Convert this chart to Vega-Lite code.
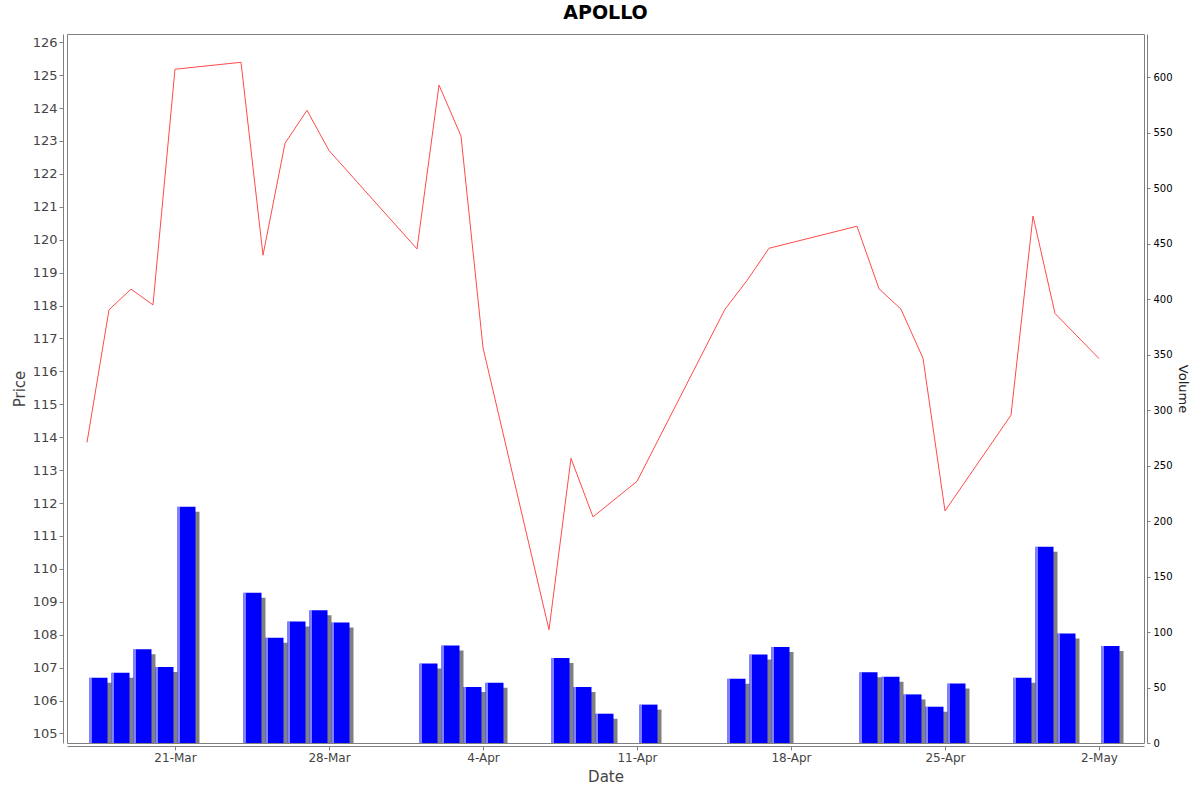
{
  "$schema": "https://vega.github.io/schema/vega-lite/v6.json",
  "width": 1077,
  "height": 709,
  "autosize": "none",
  "padding": {"left": 67, "top": 34, "right": 56, "bottom": 49},
  "background": "white",
  "title": {
    "text": "APOLLO",
    "font": "DejaVu Sans",
    "fontSize": 19,
    "fontWeight": "bold",
    "color": "black",
    "anchor": "middle",
    "baseline": "bottom",
    "offset": 10,
    "dy": 18
  },
  "config": {
    "view": {"stroke": "#808080", "strokeWidth": 1},
    "axis": {
      "font": "DejaVu Sans",
      "labelFont": "DejaVu Sans",
      "titleFont": "DejaVu Sans",
      "domainColor": "#808080",
      "tickColor": "#808080",
      "grid": false
    }
  },
  "data": {
    "values": [
      {"date": "2025/03/17", "price": 113.84, "volume": 58.7},
      {"date": "2025/03/18", "price": 117.87, "volume": 63.4},
      {"date": "2025/03/19", "price": 118.50, "volume": 84.5},
      {"date": "2025/03/20", "price": 118.02, "volume": 68.6},
      {"date": "2025/03/21", "price": 125.18, "volume": 213.0},
      {"date": "2025/03/24", "price": 125.39, "volume": 135.4},
      {"date": "2025/03/25", "price": 119.53, "volume": 94.8},
      {"date": "2025/03/26", "price": 122.93, "volume": 109.5},
      {"date": "2025/03/27", "price": 123.93, "volume": 119.7},
      {"date": "2025/03/28", "price": 122.71, "volume": 108.6},
      {"date": "2025/04/01", "price": 119.72, "volume": 71.6},
      {"date": "2025/04/02", "price": 124.70, "volume": 87.8},
      {"date": "2025/04/03", "price": 123.15, "volume": 50.5},
      {"date": "2025/04/04", "price": 116.72, "volume": 54.4},
      {"date": "2025/04/07", "price": 108.15, "volume": 76.7},
      {"date": "2025/04/08", "price": 113.36, "volume": 50.5},
      {"date": "2025/04/09", "price": 111.58, "volume": 26.4},
      {"date": "2025/04/11", "price": 112.66, "volume": 34.6},
      {"date": "2025/04/15", "price": 117.89, "volume": 57.8},
      {"date": "2025/04/16", "price": 118.76, "volume": 79.7},
      {"date": "2025/04/17", "price": 119.74, "volume": 86.6},
      {"date": "2025/04/21", "price": 120.41, "volume": 63.7},
      {"date": "2025/04/22", "price": 118.51, "volume": 59.8},
      {"date": "2025/04/23", "price": 117.89, "volume": 43.8},
      {"date": "2025/04/24", "price": 116.40, "volume": 32.7},
      {"date": "2025/04/25", "price": 111.76, "volume": 53.7},
      {"date": "2025/04/28", "price": 114.67, "volume": 58.8},
      {"date": "2025/04/29", "price": 120.72, "volume": 176.8},
      {"date": "2025/04/30", "price": 117.76, "volume": 98.6},
      {"date": "2025/05/02", "price": 116.39, "volume": 87.4}
    ]
  },
  "encoding": {
    "x": {
      "field": "date",
      "type": "temporal",
      "title": "Date",
      "scale": {
        "domain": [
          {"year": 2025, "month": "mar", "date": 16, "hours": 2, "minutes": 11},
          {"year": 2025, "month": "may", "date": 4, "hours": 1, "minutes": 5}
        ],
        "nice": false,
        "padding": 0
      },
      "axis": {
        "values": [
          {"year": 2025, "month": "mar", "date": 21},
          {"year": 2025, "month": "mar", "date": 28},
          {"year": 2025, "month": "apr", "date": 4},
          {"year": 2025, "month": "apr", "date": 11},
          {"year": 2025, "month": "apr", "date": 18},
          {"year": 2025, "month": "apr", "date": 25},
          {"year": 2025, "month": "may", "date": 2}
        ],
        "format": "%-d-%b",
        "offset": 3,
        "tickSize": 4,
        "labelPadding": 2,
        "labelFontSize": 12,
        "labelColor": "#444444",
        "titleFontSize": 15,
        "titleFontWeight": "normal",
        "titleColor": "#444444",
        "titlePadding": 6
      }
    }
  },
  "layer": [
    {
      "layer": [
        {
          "mark": {"type": "bar", "color": "#808080", "width": 18, "xOffset": 15.5, "yOffset": 5, "clip": true},
          "encoding": {
            "y": {
              "field": "volume",
              "type": "quantitative",
              "scale": {"domain": [0, 639], "nice": false, "zero": true},
              "title": "Volume",
              "axis": {
                "orient": "right",
                "values": [0, 25, 50, 75, 100, 125, 150, 175, 200, 225, 250, 275, 300, 325, 350, 375, 400, 425, 450, 475, 500, 525, 550, 575, 600, 625],
                "offset": 3,
                "tickSize": 3,
                "labelPadding": 3,
                "labelFontSize": 10,
                "labelColor": "black",
                "titleFontSize": 13,
                "titleFontWeight": "normal",
                "titleColor": "#222222",
                "titlePadding": 3
              }
            }
          }
        },
        {
          "mark": {"type": "bar", "color": "#0000ff", "width": 18, "xOffset": 11.5},
          "encoding": {
            "y": {"field": "volume", "type": "quantitative"}
          }
        },
        {
          "mark": {"type": "rule", "color": "white", "strokeWidth": 1, "xOffset": 4},
          "encoding": {
            "y": {"field": "volume", "type": "quantitative"},
            "y2": {"datum": 0}
          }
        }
      ]
    },
    {
      "mark": {"type": "line", "color": "#ff4a4a", "strokeWidth": 1},
      "encoding": {
        "y": {
          "field": "price",
          "type": "quantitative",
          "scale": {"domain": [104.71, 126.25], "nice": false, "zero": false},
          "title": "Price",
          "axis": {
            "orient": "left",
            "values": [105, 106, 107, 108, 109, 110, 111, 112, 113, 114, 115, 116, 117, 118, 119, 120, 121, 122, 123, 124, 125, 126],
            "offset": 4,
            "tickSize": 4,
            "labelPadding": 2,
            "labelFontSize": 13,
            "labelColor": "#444444",
            "titleFontSize": 15,
            "titleFontWeight": "normal",
            "titleColor": "#444444",
            "titlePadding": 5
          }
        }
      }
    }
  ],
  "resolve": {"scale": {"y": "independent"}}
}
